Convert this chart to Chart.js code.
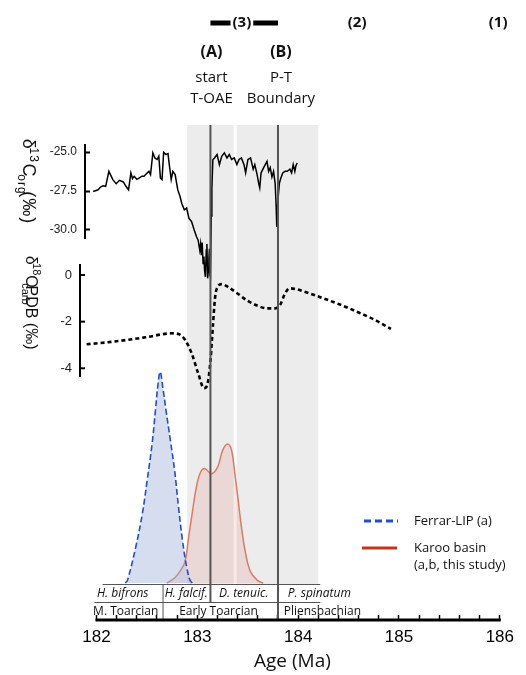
<!DOCTYPE html>
<html><head><meta charset="utf-8">
<script src="https://cdn.jsdelivr.net/npm/chart.js@4"></script>
<style>html,body{margin:0;padding:0;background:#fff}#wrap{width:526px;height:675px;position:relative}</style>
</head><body><div id="wrap"><canvas id="c" width="526" height="675"></canvas></div>
<script>
// ---------------- data ----------------
const d13cAge = [181.967,182.016,182.040,182.065,182.091,182.123,182.162,182.195,182.227,182.266,182.292,182.318,182.341,182.357,182.374,182.400,182.422,182.450,182.471,182.495,182.520,182.536,182.559,182.579,182.601,182.618,182.634,182.650,182.666,182.689,182.709,182.722,182.741,182.757,182.780,182.806,182.829,182.845,182.871,182.894,182.917,182.943,182.969,182.992,183.008,183.024,183.032,183.040,183.048,183.057,183.065,183.072,183.080,183.089,183.095,183.102,183.108,183.115,183.120,183.125,183.130,183.138,183.144,183.154,183.170,183.196,183.219,183.242,183.268,183.294,183.317,183.340,183.366,183.392,183.414,183.437,183.463,183.479,183.502,183.528,183.554,183.570,183.593,183.609,183.619,183.632,183.658,183.674,183.691,183.707,183.723,183.740,183.756,183.772,183.782,183.788,183.798,183.814,183.827,183.847,183.870,183.892,183.918,183.935,183.951,183.967,183.977,183.990];
const d13cVal = [-27.53,-27.42,-27.25,-27.16,-27.20,-26.24,-26.77,-27.03,-26.82,-26.92,-27.20,-27.42,-26.34,-26.70,-26.56,-26.75,-26.67,-26.55,-26.56,-26.40,-26.24,-26.45,-25.05,-25.38,-25.48,-25.27,-26.67,-26.77,-25.01,-25.16,-25.10,-25.81,-26.77,-26.24,-26.45,-27.42,-27.85,-28.28,-28.71,-28.60,-29.25,-29.46,-30.00,-30.43,-30.65,-31.29,-30.90,-31.61,-30.80,-32.15,-31.70,-32.60,-33.00,-31.29,-30.90,-33.10,-32.70,-31.80,-31.20,-32.90,-33.00,-29.10,-27.40,-25.50,-25.38,-25.16,-25.81,-25.27,-25.05,-25.38,-25.16,-25.48,-25.38,-25.81,-25.48,-25.38,-25.81,-26.34,-25.48,-25.38,-26.10,-25.81,-26.45,-27.03,-27.30,-26.34,-26.00,-25.81,-25.60,-26.24,-26.00,-26.60,-26.24,-27.03,-28.50,-29.80,-28.20,-27.00,-26.69,-26.34,-26.24,-26.24,-26.10,-26.34,-25.81,-26.24,-25.90,-25.70];

const d18oAge = [181.902,182.162,182.488,182.748,182.813,182.878,182.943,183.008,183.066,183.099,183.131,183.154,183.177,183.203,183.242,183.300,183.398,183.496,183.593,183.691,183.772,183.821,183.870,183.918,183.983,184.113,184.276,184.439,184.601,184.764,184.920];
const d18oVal = [-2.97,-2.86,-2.67,-2.50,-2.53,-2.78,-3.35,-4.21,-4.85,-4.71,-3.64,-2.21,-0.93,-0.50,-0.39,-0.50,-0.79,-1.10,-1.31,-1.43,-1.43,-1.28,-0.79,-0.57,-0.61,-0.79,-1.04,-1.31,-1.61,-1.93,-2.31];

const ferrarAge = [182.286,182.308,182.390,182.455,182.503,182.552,182.585,182.611,182.632,182.657,182.689,182.732,182.774,182.813,182.852,182.894,182.927,182.949];
const ferrarDen = [0,0.014,0.172,0.330,0.488,0.662,0.820,0.946,1.000,0.929,0.820,0.678,0.536,0.362,0.205,0.077,0.014,0];

const karooAge = [182.696,182.774,182.822,182.878,182.910,182.949,182.991,183.034,183.073,183.112,183.144,183.203,183.252,183.300,183.339,183.372,183.405,183.437,183.479,183.528,183.593,183.652];
const karooDen = [0,0.024,0.052,0.101,0.204,0.330,0.456,0.527,0.543,0.527,0.517,0.551,0.630,0.659,0.630,0.519,0.393,0.267,0.139,0.053,0.014,0];

const xTickLabels = ['182','183','184','185','186'];
const y13Ticks = [-25.0,-27.5,-30.0];
const y18Ticks = [0,-2,-4];
const bandRanges = [[182.90,183.36],[183.39,184.20]];
const eventAges = [183.13,183.80];
const eventLabels = [['(A)','start','T-OAE'],['(B)','P-T','Boundary']];
const intervalLabels = ['(3)','(2)','(1)'];
const intervalAges = [183.442,184.585,185.983];
const zoneBounds = [182.66,183.13,183.80];
const zoneNames = ['H. bifrons','H. falcif.','D. tenuic.','P. spinatum'];
const zoneCenters = [182.26,182.89,183.46,184.21];
const stageNames = ['M. Toarcian','Early Toarcian','Pliensbachian'];
const stageCenters = [182.29,183.21,184.24];
const tableRange = [182.06,184.22];
const legendLines = [['Ferrar-LIP (a)'],['Karoo basin','(a,b, this study)']];

// ---------------- helpers ----------------
const pts = (xs, ys) => xs.map((x, i) => ({x, y: ys[i]}));
const SANS = '"Liberation Sans", Arial, sans-serif';
const OPEN = '"Open Sans", sans-serif';
const minorTicks = [];
for (let i = 0; i <= 20; i++) minorTicks.push(182 + i * 0.2);

function spacer(weight, sw) {
  return {type:'linear', position:'left', stack:'left', stackWeight:sw, weight:weight, min:0, max:1,
    display:true, grid:{display:false}, border:{display:false}, ticks:{display:false},
    afterFit: s => { s.width = 85; }};
}

function drawRich(ctx, parts, cx, cy, size, family, spacing) {
  ctx.save();
  ctx.translate(cx, cy);
  ctx.rotate(Math.PI/2);
  if ('letterSpacing' in ctx) ctx.letterSpacing = spacing + 'px';
  const small = Math.round(size*0.66);
  let total = 0;
  parts.forEach(p => { ctx.font = (p[1]==='n'?size:small)+'px '+family; total += ctx.measureText(p[0]).width; });
  let x = -total/2;
  ctx.textBaseline = 'alphabetic';
  ctx.fillStyle = '#111';
  parts.forEach(p => {
    const sz = p[1]==='n'?size:small;
    ctx.font = sz+'px '+family;
    const dy = p[1]==='sup' ? -size*0.42 : p[1]==='sub' ? size*0.28 : 0;
    ctx.fillText(p[0], x, size*0.35 + dy);
    x += ctx.measureText(p[0]).width;
  });
  ctx.restore();
}

const decor = {
  id:'decor',
  beforeDatasetsDraw(chart) {
    const {ctx, chartArea:a, scales:{x}} = chart;
    ctx.save();
    ctx.fillStyle = '#ececec';
    const tableTop = a.bottom - 36;
    bandRanges.forEach(r => {
      const x1 = x.getPixelForValue(r[0]), x2 = x.getPixelForValue(r[1]);
      ctx.fillRect(x1, a.top, x2 - x1, tableTop - a.top);
    });
    const y18 = chart.scales.y18;
    const ax = a.left - 5;
    ctx.strokeStyle = '#000'; ctx.lineWidth = 2;
    ctx.beginPath(); ctx.moveTo(ax, y18.top); ctx.lineTo(ax, y18.bottom); ctx.stroke();
    y18.ticks.forEach(t => {
      const py = y18.getPixelForValue(t.value);
      ctx.beginPath(); ctx.moveTo(ax, py); ctx.lineTo(ax + 5, py); ctx.stroke();
    });
    ctx.restore();
  },
  afterDatasetsDraw(chart) {
    const {ctx, chartArea:a, scales:{x}} = chart;
    const tableTop = a.bottom - 36, tableMid = a.bottom - 18;
    ctx.save();
    ctx.strokeStyle = '#555'; ctx.lineWidth = 2;
    eventAges.forEach((ag, i) => {
      const px = x.getPixelForValue(ag);
      ctx.beginPath(); ctx.moveTo(px, a.top); ctx.lineTo(px, i === 0 ? tableMid : a.bottom); ctx.stroke();
    });
    ctx.strokeStyle = '#555'; ctx.lineWidth = 1;
    const tl = x.getPixelForValue(tableRange[0]), tr = x.getPixelForValue(tableRange[1]);
    ctx.beginPath(); ctx.moveTo(tl, tableTop + 0.5); ctx.lineTo(tr, tableTop + 0.5); ctx.stroke();
    ctx.beginPath(); ctx.moveTo(x.getPixelForValue(181.98), tableMid + 0.5); ctx.lineTo(tr, tableMid + 0.5); ctx.stroke();
    const zb = x.getPixelForValue(zoneBounds[0]);
    ctx.beginPath(); ctx.moveTo(zb, tableTop); ctx.lineTo(zb, a.bottom); ctx.stroke();
    ctx.fillStyle = '#111'; ctx.textAlign = 'center'; ctx.textBaseline = 'middle';
    ctx.font = 'italic 12px ' + OPEN;
    zoneNames.forEach((n, i) => ctx.fillText(n, x.getPixelForValue(zoneCenters[i]), tableTop + 10));
    ctx.font = '12px ' + OPEN;
    stageNames.forEach((n, i) => ctx.fillText(n, x.getPixelForValue(stageCenters[i]), tableMid + 9.5));
    ctx.strokeStyle = '#000'; ctx.lineWidth = 3;
    ctx.beginPath(); ctx.moveTo(x.getPixelForValue(182) - 1, a.bottom); ctx.lineTo(x.getPixelForValue(186) + 1, a.bottom); ctx.stroke();
    ctx.restore();
  },
  afterDraw(chart) {
    const {ctx, scales:{x}} = chart;
    ctx.save();
    ctx.fillStyle = '#111'; ctx.textAlign = 'center'; ctx.textBaseline = 'middle';
    ctx.font = 'bold 15px ' + OPEN;
    intervalLabels.forEach((t, i) => ctx.fillText(t, x.getPixelForValue(intervalAges[i]), 23));
    const w3 = ctx.measureText(intervalLabels[0]).width;
    const c3 = x.getPixelForValue(intervalAges[0]);
    ctx.fillStyle = '#000';
    ctx.fillRect(x.getPixelForValue(eventAges[0]), 20.5, c3 - w3/2 - 2 - x.getPixelForValue(eventAges[0]), 5);
    ctx.fillRect(c3 + w3/2 + 2, 20.5, x.getPixelForValue(eventAges[1]) - (c3 + w3/2 + 2), 5);
    ctx.fillStyle = '#111';
    eventLabels.forEach((lines, i) => {
      const px = x.getPixelForValue(eventAges[i]) + (i === 0 ? 1 : 3);
      ctx.font = 'bold 16px ' + OPEN; ctx.fillText(lines[0], px, 52);
      ctx.font = '15px ' + OPEN; ctx.fillText(lines[1], px, 78); ctx.fillText(lines[2], px, 99);
    });
    drawRich(ctx, [['δ','n'],['13','sup'],['C','n'],['org','sub'],[' (‰)','n']], 29, 194, 18, SANS, 1);
    drawRich(ctx, [['δ','n'],['18','sup'],['O','n'],['carb','sub'],[' PDB (‰)','n']], 32, 322, 16, SANS, 0);
    const ds = chart.data.datasets;
    ctx.lineWidth = 3;
    ctx.strokeStyle = ds[2].borderColor; ctx.setLineDash([7,4]);
    ctx.beginPath(); ctx.moveTo(364, 521); ctx.lineTo(398, 521); ctx.stroke();
    ctx.setLineDash([]);
    ctx.strokeStyle = '#c8331a';
    ctx.beginPath(); ctx.moveTo(362, 548); ctx.lineTo(397, 548); ctx.stroke();
    ctx.textAlign = 'left'; ctx.font = '13px ' + OPEN; ctx.fillStyle = '#111';
    ctx.fillText(legendLines[0][0], 414, 521);
    ctx.fillText(legendLines[1][0], 414, 548);
    ctx.fillText(legendLines[1][1], 414, 565);
    ctx.restore();
  }
};

new Chart(document.getElementById('c'), {
  type:'line',
  data:{datasets:[
    {label:'δ13C org', data:pts(d13cAge, d13cVal), yAxisID:'y13', clip:false, borderColor:'#000', borderWidth:1.5, pointRadius:0, tension:0, fill:false},
    {label:'δ18O carb', data:pts(d18oAge, d18oVal), yAxisID:'y18', clip:false, borderColor:'#000', borderWidth:2.6, borderDash:[4,3], pointRadius:0, cubicInterpolationMode:'monotone', fill:false},
    {label:'Ferrar-LIP (a)', data:pts(ferrarAge, ferrarDen), yAxisID:'yDen', clip:false, borderColor:'#1f4fd0', borderWidth:1.6, borderDash:[6,3], pointRadius:0, tension:0.4, fill:'origin', backgroundColor:'rgba(150,170,215,0.4)'},
    {label:'Karoo basin (a,b, this study)', data:pts(karooAge, karooDen), yAxisID:'yDen', clip:false, borderColor:'#dc7a62', borderWidth:1.5, pointRadius:0, tension:0.4, fill:'origin', backgroundColor:'rgba(225,140,125,0.2)'}
  ]},
  options:{
    responsive:false, animation:false, devicePixelRatio:1,
    layout:{padding:{top:125, right:19, bottom:0, left:0}},
    plugins:{legend:{display:false}, tooltip:{enabled:false}},
    scales:{
      x:{type:'linear', position:'bottom', min:181.886, max:186,
        afterBuildTicks: s => { s.ticks = minorTicks.map(v => ({value:v})); },
        afterFit: s => { s.height = 55; },
        grid:{display:true, drawOnChartArea:false, drawTicks:true, tickLength:-5, tickColor:'#000', tickWidth:1.5},
        border:{display:false},
        ticks:{autoSkip:false, maxRotation:0, padding:12, color:'#000', font:{family:SANS, size:17},
          callback: v => { const r = Math.round(v); return Math.abs(v - r) < 1e-6 ? xTickLabels[r - 182] : ''; }},
        title:{display:true, text:'Age (Ma)', color:'#111', font:{family:OPEN, size:19}, padding:{top:2, bottom:2}}
      },
      yTop: spacer(5, 20),
      y13:{type:'linear', position:'left', stack:'left', stackWeight:93, weight:4, min:-30.513, max:-24.551,
        afterBuildTicks: s => { s.ticks = y13Ticks.map(v => ({value:v})); },
        afterFit: s => { s.width = 85; },
        grid:{display:true, drawOnChartArea:false, drawTicks:true, tickLength:-5, tickColor:'#000', tickWidth:2},
        border:{display:true, color:'#000', width:2},
        ticks:{padding:13, color:'#222', font:{family:SANS, size:12}, callback: v => v.toFixed(1)}},
      ySp: spacer(3, 26),
      y18:{type:'linear', position:'left', stack:'left', stackWeight:113, weight:2, min:-4.373, max:0.472,
        afterBuildTicks: s => { s.ticks = y18Ticks.map(v => ({value:v})); },
        afterFit: s => { s.width = 85; },
        grid:{display:false, drawTicks:false},
        border:{display:false},
        ticks:{padding:13, color:'#222', font:{family:SANS, size:13}, callback: v => String(v)}},
      yDen:{type:'linear', position:'left', stack:'left', stackWeight:243, weight:1, min:-0.175, max:0.976,
        display:true, grid:{display:false}, border:{display:false}, ticks:{display:false},
        afterFit: s => { s.width = 85; }}
    }
  },
  plugins:[decor]
});
</script></body></html>
